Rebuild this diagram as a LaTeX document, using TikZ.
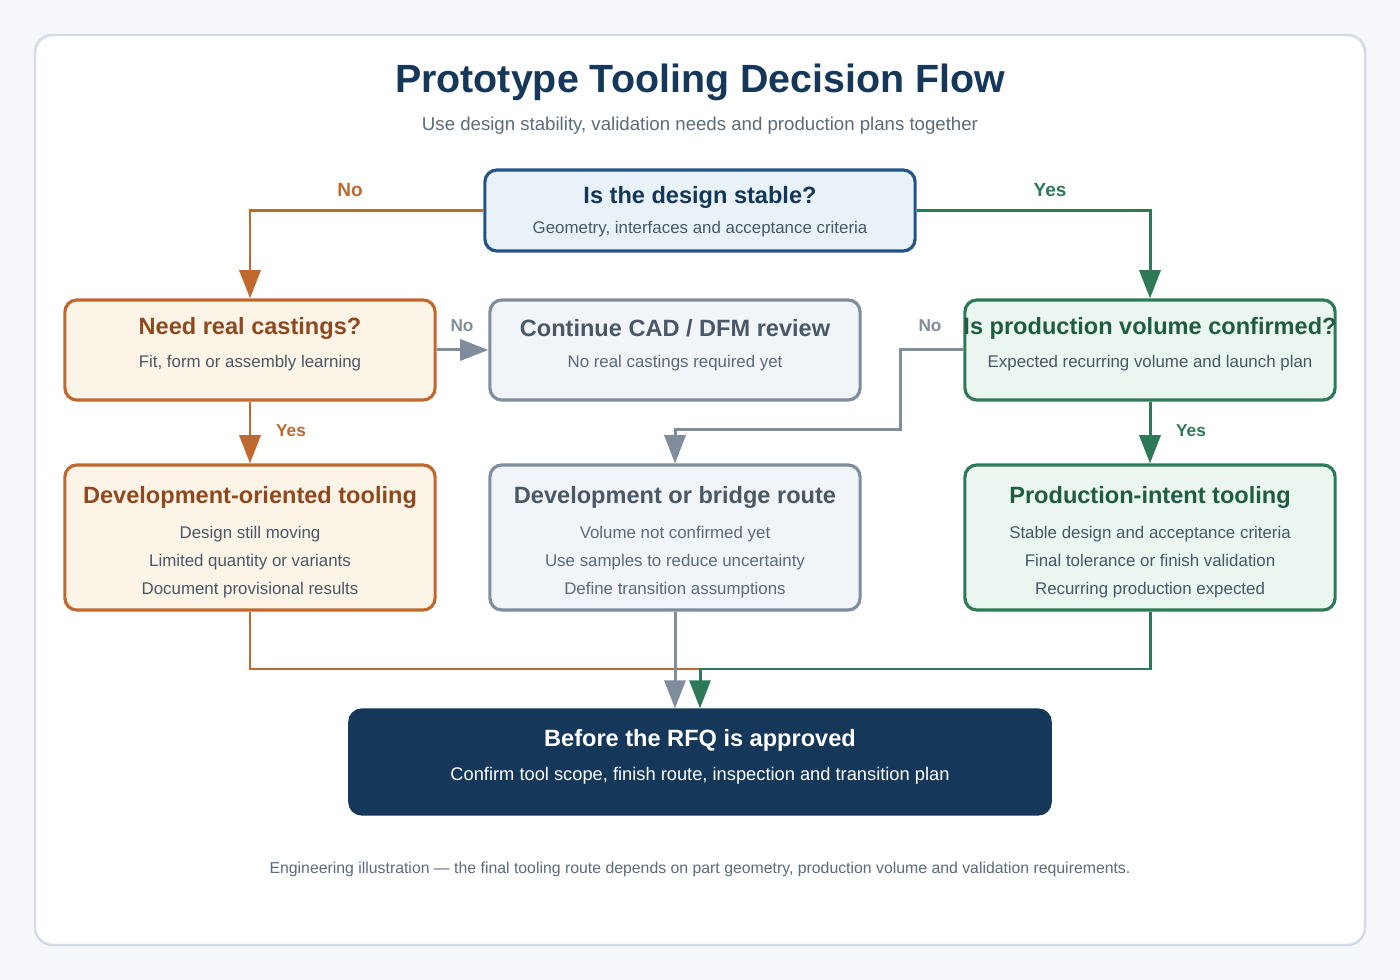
\documentclass[tikz,border=0pt]{standalone}
\usepackage{fontspec}
\setmainfont{Liberation Sans}
\usetikzlibrary{arrows.meta}
\definecolor{bgpage}{HTML}{F5F7FA}
\definecolor{cardline}{HTML}{D3DBE6}
\definecolor{navy}{HTML}{14375A}
\definecolor{subgray}{HTML}{5C6B7A}
\definecolor{bluefill}{HTML}{E9F1F9}
\definecolor{blueline}{HTML}{245486}
\definecolor{orng}{HTML}{C0692F}
\definecolor{orngtxt}{HTML}{8E4A1E}
\definecolor{orngfill}{HTML}{FDF4E8}
\definecolor{gry}{HTML}{7F8D9C}
\definecolor{grytxt}{HTML}{4A5866}
\definecolor{gryfill}{HTML}{F1F4F8}
\definecolor{grn}{HTML}{2E7A58}
\definecolor{grntxt}{HTML}{1F5C41}
\definecolor{grnfill}{HTML}{EAF6EF}
\tikzset{
  box/.style={draw, line width=0.9pt, rounded corners=3.4pt, inner sep=0pt},
  ttl/.style={font=\fontsize{6.7}{8}\selectfont\bfseries},
  sub/.style={font=\fontsize{4.8}{8}\selectfont, align=center},
  flow/.style={line width=0.85pt, -{Triangle[width=6pt,length=8pt]}},
  lbl/.style={font=\fontsize{5.4}{6}\selectfont\bfseries},
}
\begin{document}
\begin{tikzpicture}[x=0.01cm,y=-0.01cm]
  \fill[bgpage] (0,0) rectangle (1400,980);                                   %page
  \draw[cardline, fill=white, line width=0.7pt, rounded corners=5pt] (35,35) rectangle (1365,945); %card
  \node[font=\fontsize{11.2}{13}\selectfont\bfseries, text=navy] (title) at (700,82) {Prototype Tooling Decision Flow};
  \node[font=\fontsize{5.3}{7}\selectfont, text=subgray] (subtitle) at (700,126) {Use design stability, validation needs and production plans together};
  % boxes
  \node[box, draw=blueline, fill=bluefill, minimum width=4.3cm, minimum height=0.81cm] (stable) at (700,210.5) {};
  \node[box, draw=orng, fill=orngfill, minimum width=3.7cm, minimum height=1cm] (cast) at (250,350) {};
  \node[box, draw=gry, fill=gryfill, minimum width=3.7cm, minimum height=1cm] (cad) at (675,350) {};
  \node[box, draw=grn, fill=grnfill, minimum width=3.7cm, minimum height=1cm] (vol) at (1150,350) {};
  \node[box, draw=orng, fill=orngfill, minimum width=3.7cm, minimum height=1.45cm] (devtool) at (250,537.5) {};
  \node[box, draw=gry, fill=gryfill, minimum width=3.7cm, minimum height=1.45cm] (bridge) at (675,537.5) {};
  \node[box, draw=grn, fill=grnfill, minimum width=3.7cm, minimum height=1.45cm] (prodtool) at (1150,537.5) {};
  \node[box, draw=navy, fill=navy, minimum width=7cm, minimum height=1.04cm] (rfq) at (700,762) {};
  % texts
  \node[ttl, text=navy] (stablet) at (700,197) {Is the design stable?};
  \node[sub, text=grytxt] (stables) at (700,229) {Geometry, interfaces and acceptance criteria};
  \node[ttl, text=orngtxt] (castt) at (250,328) {Need real castings?};
  \node[sub, text=grytxt] (casts) at (250,363) {Fit, form or assembly learning};
  \node[ttl, text=grytxt] (cadt) at (675,328) {Continue CAD / DFM review};
  \node[sub, text=subgray] (cads) at (675,363) {No real castings required yet};
  \node[ttl, text=grntxt] (volt) at (1150,328) {Is production volume confirmed?};
  \node[sub, text=grytxt] (vols) at (1150,363) {Expected recurring volume and launch plan};
  \node[ttl, text=orngtxt] (devtoolt) at (250,497) {Development-oriented tooling};
  \node[sub, text=grytxt] (devtools) at (250,562) {Design still moving\\Limited quantity or variants\\Document provisional results};
  \node[ttl, text=grytxt] (bridget) at (675,497) {Development or bridge route};
  \node[sub, text=subgray] (bridges) at (675,562) {Volume not confirmed yet\\Use samples to reduce uncertainty\\Define transition assumptions};
  \node[ttl, text=grntxt] (prodtoolt) at (1150,497) {Production-intent tooling};
  \node[sub, text=grytxt] (prodtools) at (1150,562) {Stable design and acceptance criteria\\Final tolerance or finish validation\\Recurring production expected};
  \node[ttl, text=white] (rfqt) at (700,740) {Before the RFQ is approved};
  \node[sub, font=\fontsize{5.2}{7}\selectfont, text=white] (rfqs) at (700,776) {Confirm tool scope, finish route, inspection and transition plan};
  \node[font=\fontsize{4.5}{6}\selectfont, text=subgray] (foot) at (700,869) {Engineering illustration — the final tooling route depends on part geometry, production volume and validation requirements.};
  % connectors
  \coordinate (join) at (700,669);
  \draw[flow, orng] (stable.west) -| (cast.north);
  \draw[flow, grn] (stable.east) -| (vol.north);
  \draw[flow, gry] (cast.east) -- (cad.west);
  \draw[flow, orng] (cast.south) -- (devtool.north);
  \draw[flow, grn] (vol.south) -- (prodtool.north);
  \draw[flow, gry] (vol.west) -- (900,350) -- (900,430) -| (bridge.north);
  \draw[line width=0.85pt, orng] (devtool.south) |- (join);
  \draw[flow, gry] (bridge.south) -- (bridge.south |- rfq.north);
  \draw[flow, grn] (prodtool.south) |- (join) -- (join |- rfq.north);
  % labels
  \node[lbl, text=orng] (nol) at (350,190) {No};
  \node[lbl, text=grn] (yesr) at (1050,190) {Yes};
  \node[lbl, text=gry, font=\fontsize{4.9}{6}\selectfont\bfseries] (nom) at (462,326) {No};
  \node[lbl, text=gry, font=\fontsize{4.9}{6}\selectfont\bfseries] (nov) at (930,326) {No};
  \node[lbl, text=orng, font=\fontsize{4.9}{6}\selectfont\bfseries] (yesl) at (291,431) {Yes};
  \node[lbl, text=grn, font=\fontsize{4.9}{6}\selectfont\bfseries] (yesv) at (1191,431) {Yes};
\end{tikzpicture}
\end{document}
